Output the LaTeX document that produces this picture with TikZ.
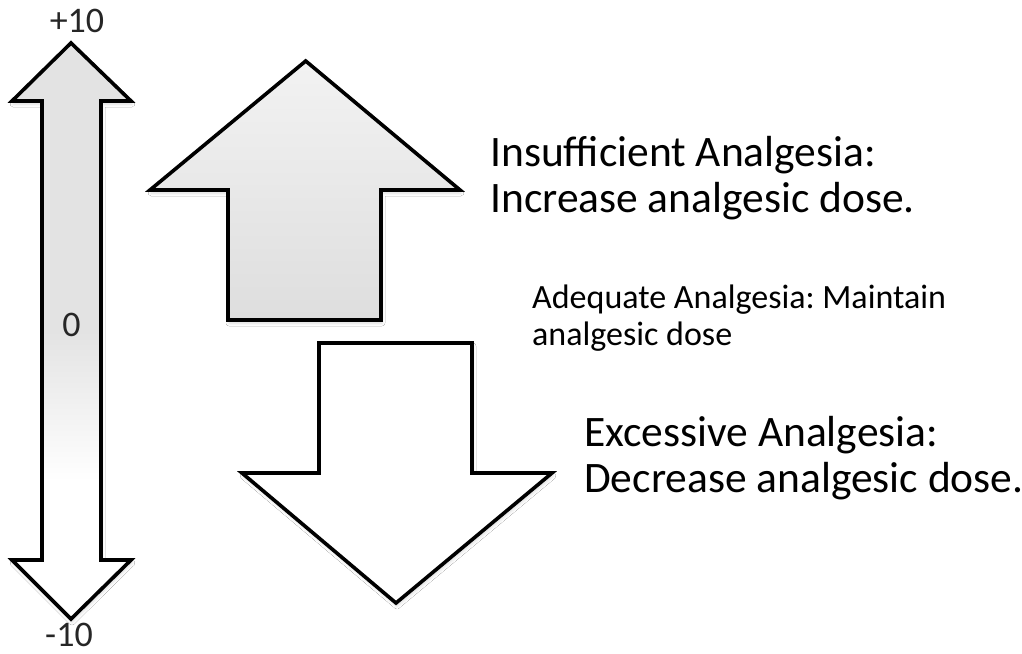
\documentclass[tikz,border=0pt]{standalone}
\usepackage{fontspec}
\setmainfont{Carlito}
\frenchspacing
\usetikzlibrary{shadows.blur}
% grey at the top of the scale, fading to white towards the lower end
\pgfdeclareverticalshading{scalefade}{100bp}{color(0bp)=(white); color(37bp)=(white); color(50bp)=(black!11); color(100bp)=(black!11)}
\begin{document}
\begin{tikzpicture}[x=1pt,y=-1pt,
  outline/.style={draw=black, line width=3.6pt, line join=miter,
    blur shadow={shadow xshift=1pt, shadow yshift=-3pt, shadow opacity=15, shadow blur radius=3pt}},
  bigtext/.style={anchor=base west, inner sep=0pt, align=left, font=\fontsize{43.5}{45.5}\selectfont},
  smalltext/.style={anchor=base west, inner sep=0pt, align=left, font=\fontsize{34}{37}\selectfont},
  scaletext/.style={anchor=base, inner sep=0pt, font=\fontsize{36}{40}\selectfont, text=black!85}]
\useasboundingbox[fill=white] (0,0) rectangle (1022,653);

% two-headed scale arrow
\path[outline, shading=scalefade]
  (71,43) -- (131,101) -- (101,101) -- (101,560) -- (131,560) -- (71,619)
  -- (12,560) -- (42,560) -- (42,101) -- (12,101) -- cycle;

% increase arrow
\path[outline, top color=black!5, bottom color=black!13]
  (305.7,61) -- (460,190) -- (381,190) -- (381,320) -- (228,320)
  -- (228,190) -- (150,190) -- cycle;

% decrease arrow
\path[outline, fill=white]
  (319,343) -- (472,343) -- (472,473) -- (552,473) -- (396,603)
  -- (242,473) -- (319,473) -- cycle;

% scale labels
\node[scaletext] (top) at (77,32) {+10};
\node[scaletext] (mid) at (71.5,336) {0};
\node[scaletext] (bot) at (69,646) {-10};

% advice texts (anchored on the baseline of their last line)
\node[bigtext] (insuff) at (490,212) {Insufficient Analgesia:\\Increase analgesic dose.};
\node[smalltext] (adeq) at (532,345) {Adequate Analgesia: Maintain\\analgesic dose};
\node[bigtext] (excess) at (584,492) {Excessive Analgesia:\\Decrease analgesic dose.};
\end{tikzpicture}
\end{document}
